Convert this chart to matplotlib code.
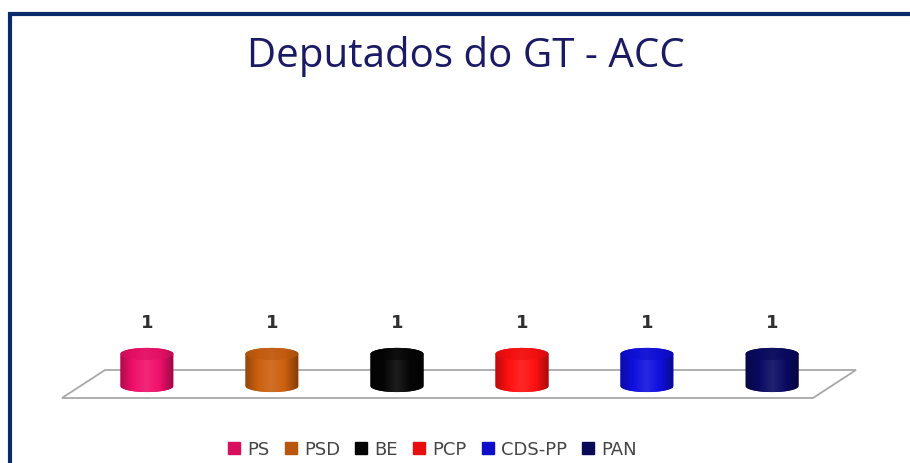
import numpy as np
import matplotlib
matplotlib.use("Agg")
import matplotlib.pyplot as plt
from matplotlib.patches import Polygon, Ellipse, Rectangle
from matplotlib.lines import Line2D
from matplotlib.colors import LinearSegmentedColormap, to_rgb

# ---- data ----
parties = ["PS", "PSD", "BE", "PCP", "CDS-PP", "PAN"]
deputies = [1, 1, 1, 1, 1, 1]
colors = ["#F0106A", "#CC6010", "#050505", "#FF1010", "#1010E0", "#0A0A62"]
title = "Deputados do GT - ACC"

W, H = 910, 464
fig = plt.figure(figsize=(W / 100, H / 100), dpi=100)
fig.patch.set_facecolor("white")

# axes covering the whole figure; data units: x = category index, y = value
ax = fig.add_axes([0, 0, 1, 1])
ax.set_axis_off()
x0px, xstep = 147, 125
y0px, ystep = 387, 32
xlim = (-x0px / xstep, (W - x0px) / xstep)
ylim = ((y0px - H) / ystep, y0px / ystep)

n = len(parties)
# floor
floor = Polygon([(-0.336, 0.5), (n - 1 + 0.672, 0.5), (n - 1 + 0.328, -0.375), (-0.68, -0.375)],
                closed=True, facecolor="white", edgecolor="#A8A8A8", lw=1.3, zorder=1)
ax.add_patch(floor)

hw = 0.212  # half width of cylinder
eh = 0.19   # half height of ellipse


def shade(c, f):
    r, g, b = to_rgb(c)
    if f < 1:
        return (r * f, g * f, b * f)
    f = f - 1
    return (r + (1 - r) * f, g + (1 - g) * f, b + (1 - b) * f)


for i, (v, c) in enumerate(zip(deputies, colors)):
    t = np.linspace(0, np.pi, 60)
    top = np.column_stack([i + hw * np.cos(t), v + eh * np.sin(t)])
    bot = np.column_stack([i - hw * np.cos(t), -eh * np.sin(t)])
    verts = np.vstack([top, bot])
    body = Polygon(verts, closed=True, facecolor=c, edgecolor="none", zorder=3)
    ax.add_patch(body)
    cmap = LinearSegmentedColormap.from_list(
        "g", [shade(c, 0.72), shade(c, 1.0), shade(c, 1.1), shade(c, 1.0), shade(c, 0.65)])
    grad = np.linspace(0, 1, 256).reshape(1, -1)
    im = ax.imshow(grad, extent=[i - hw, i + hw, -eh, v + eh], cmap=cmap,
                   aspect="auto", zorder=4, interpolation="bilinear")
    im.set_clip_path(body)
    topell = Ellipse((i, v), 2 * hw, 2 * eh, facecolor=shade(c, 0.92),
                     edgecolor="none", zorder=5, alpha=0.6)
    ax.add_patch(topell)
    ax.annotate(str(v), xy=(i, v), xytext=(0, 23), textcoords="offset points",
                ha="center", va="center", fontsize=13, fontweight="bold",
                color="#303030", family="DejaVu Sans", zorder=6)

ax.set_xlim(*xlim)
ax.set_ylim(*ylim)

# title
fig.text(466 / W, 1 - 67 / H, title, ha="center", va="baseline",
         fontsize=29, color="#1A1A66", family="Open Sans")

# legend
handles = [Line2D([], [], ls="none", marker="s", markersize=8, markerfacecolor=shade(c, 0.9),
                  markeredgecolor=shade(c, 0.9)) for c in colors]
fig.legend(handles, parties, loc="center", bbox_to_anchor=(432 / W, 1 - 450 / H),
           ncol=n, frameon=False, handlelength=0.8, handletextpad=0.35,
           columnspacing=0.75, labelcolor="#454545", prop={"family": "DejaVu Sans", "size": 13})

# frame border (dark navy), running off the right and bottom edges
fig.patches.append(Rectangle((10 / W, -0.2), 1.2, 1 - 15 / H + 0.2, transform=fig.transFigure,
                             fill=False, edgecolor="#0B2A6C", lw=3.0, zorder=10))

fig.savefig("out.png", dpi=100, facecolor="white")
